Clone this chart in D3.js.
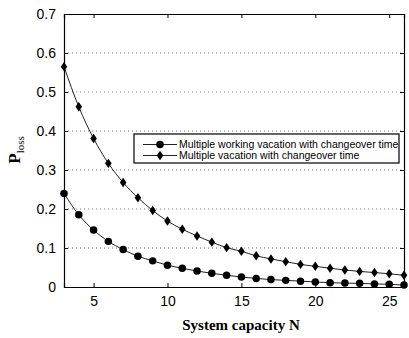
<!DOCTYPE html>
<html><head><meta charset="utf-8">
<script src="https://cdn.jsdelivr.net/npm/d3@7"></script>
<style>body{margin:0;background:#fff}svg{display:block}</style>
</head><body>
<script>
const capacity = d3.range(3, 27);
const workingVacation = [0.240,0.185,0.146,0.117,0.096,0.079,0.067,0.056,0.048,0.041,0.035,0.030,0.0256,0.022,0.019,0.017,0.015,0.013,0.011,0.010,0.0094,0.0078,0.007,0.005];
const multipleVacation = [0.565,0.462,0.381,0.317,0.268,0.229,0.196,0.169,0.148,0.131,0.115,0.101,0.0915,0.080,0.072,0.065,0.058,0.053,0.048,0.0436,0.040,0.037,0.034,0.030];
const xTicks = [5,10,15,20,25];
const yTicks = [0,0.1,0.2,0.3,0.4,0.5,0.6,0.7];
const seriesNames = ["Multiple working vacation with changeover time","Multiple vacation with changeover time"];

const W=409,H=338, L=64, R=404, T=14, B=287;
const svg=d3.select("body").append("svg").attr("width",W).attr("height",H);
const x=d3.scaleLinear().domain([3,26]).range([L,R]);
const y=d3.scaleLinear().domain([0,0.7]).range([B,T]);

// gridlines
svg.append("g").selectAll("line").data(yTicks.slice(1,-1)).join("line")
  .attr("x1",L).attr("x2",R).attr("y1",d=>y(d)).attr("y2",d=>y(d))
  .attr("stroke","#777").attr("stroke-width",1).attr("stroke-dasharray","1,3");

const fmt=d=>d===0?"0":d3.format(".1f")(d);
const axB=svg.append("g").attr("transform",`translate(0,${B})`)
  .call(d3.axisBottom(x).tickValues(xTicks).tickSize(-4).tickPadding(9));
const axT=svg.append("g").attr("transform",`translate(0,${T})`)
  .call(d3.axisTop(x).tickValues(xTicks).tickSize(-4).tickFormat(""));
const axL=svg.append("g").attr("transform",`translate(${L},0)`)
  .call(d3.axisLeft(y).tickValues(yTicks).tickSize(-4).tickPadding(8).tickFormat(fmt));
const axR=svg.append("g").attr("transform",`translate(${R},0)`)
  .call(d3.axisRight(y).tickValues(yTicks).tickSize(-4).tickFormat(""));
[axB,axT,axL,axR].forEach(g=>{
  g.select(".domain").attr("stroke","#000").attr("stroke-width",1.2);
  g.selectAll(".tick line").attr("stroke","#000");
  g.selectAll("text").attr("font-family","Liberation Sans, Arial, sans-serif").attr("font-size",14).attr("fill","#000");
});

const line=d3.line().x((d,i)=>x(capacity[i])).y(d=>y(d)).curve(d3.curveMonotoneX);
svg.append("path").datum(workingVacation).attr("d",line).attr("fill","none").attr("stroke","#222").attr("stroke-width",1);
svg.append("path").datum(multipleVacation).attr("d",line).attr("fill","none").attr("stroke","#222").attr("stroke-width",1);

const circ=d3.symbol().type(d3.symbolCircle).size(44);
const diam=d3.symbol().type(d3.symbolDiamond).size(34);
const dScale=" scale(1.05,0.87)";
svg.append("g").selectAll("path").data(workingVacation).join("path")
  .attr("d",circ).attr("transform",(d,i)=>`translate(${x(capacity[i])},${y(d)})`).attr("fill","#000");
svg.append("g").selectAll("path").data(multipleVacation).join("path")
  .attr("d",diam).attr("transform",(d,i)=>`translate(${x(capacity[i])},${y(d)})`+dScale).attr("fill","#000");

// legend
const lg=svg.append("g");
lg.append("rect").attr("x",134).attr("y",134).attr("width",265).attr("height",29)
  .attr("fill","#fff").attr("stroke","#000").attr("stroke-width",1.2);
seriesNames.forEach((s,i)=>{
  const yy=144.5+i*11;
  lg.append("line").attr("x1",143).attr("x2",177).attr("y1",yy).attr("y2",yy).attr("stroke","#222");
  lg.append("path").attr("d",i===0?circ:diam)
    .attr("transform",`translate(160,${yy})`+(i===1?dScale:"")).attr("fill","#000");
  lg.append("text").attr("x",179).attr("y",yy+3.8).text(s)
    .attr("font-family","Liberation Sans, Arial, sans-serif").attr("font-size",10.5);
});

// axis labels
svg.append("text").attr("x",241).attr("y",330).attr("text-anchor","middle")
  .attr("font-family","Liberation Serif, Times New Roman, serif").attr("font-weight","bold").attr("font-size",15)
  .text("System capacity N");
const yl=svg.append("text").attr("transform","translate(20,150) rotate(-90)").attr("text-anchor","middle")
  .attr("font-family","Liberation Serif, Times New Roman, serif").attr("font-weight","bold").attr("font-size",17);
yl.append("tspan").text("P");
yl.append("tspan").attr("dy",4).attr("font-size",11).attr("font-weight","normal").text("loss");
</script>
</body></html>
